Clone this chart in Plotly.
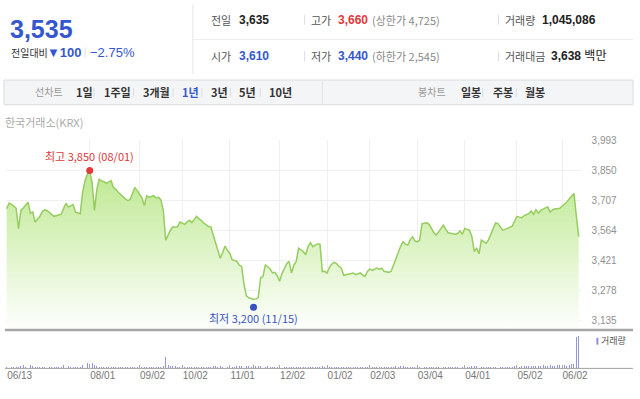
import plotly.graph_objects as go

# ---------------- data ----------------
prices = [
    3668, 3694, 3690, 3680, 3670, 3574, 3660, 3672, 3685, 3699,
    3647, 3652, 3605, 3620, 3632, 3655, 3663, 3660, 3648, 3640,
    3632, 3635, 3638, 3642, 3670, 3694, 3676, 3683, 3688, 3652,
    3646, 3644, 3746, 3800, 3832, 3845, 3793, 3660, 3760, 3808,
    3800, 3796, 3788, 3795, 3801, 3769, 3760, 3746, 3735, 3722,
    3715, 3707, 3711, 3740, 3769, 3754, 3738, 3720, 3683, 3730,
    3722, 3727, 3730, 3719, 3722, 3710, 3660, 3519, 3545, 3566,
    3582, 3580, 3582, 3605, 3600, 3594, 3605, 3613, 3602, 3620,
    3632, 3620, 3613, 3600, 3590, 3584, 3582, 3543, 3510, 3473,
    3433, 3460, 3491, 3470, 3457, 3426, 3422, 3418, 3400, 3394,
    3309, 3254, 3245, 3241, 3238, 3240, 3246, 3339, 3347, 3402,
    3390, 3382, 3363, 3366, 3350, 3324, 3360, 3386, 3407, 3418,
    3363, 3400, 3418, 3480, 3472, 3465, 3449, 3490, 3507, 3488,
    3495, 3501, 3501, 3370, 3371, 3363, 3390, 3405, 3413, 3407,
    3395, 3386, 3352, 3355, 3355, 3360, 3363, 3355, 3360, 3363,
    3352, 3347, 3370, 3382, 3375, 3380, 3386, 3380, 3386, 3371,
    3368, 3366, 3371, 3400, 3433, 3465, 3490, 3511, 3500, 3496,
    3520, 3535, 3515, 3511, 3519, 3597, 3600, 3601, 3594, 3570,
    3554, 3543, 3560, 3575, 3590, 3570, 3554, 3552, 3550, 3547,
    3550, 3563, 3547, 3574, 3570, 3566, 3535, 3465, 3480, 3454,
    3519, 3511, 3504, 3520, 3547, 3582, 3601, 3597, 3580, 3566,
    3570, 3574, 3580, 3585, 3610, 3632, 3628, 3625, 3635, 3641,
    3645, 3657, 3641, 3663, 3647, 3660, 3668, 3672, 3676, 3652,
    3662, 3668, 3668, 3670, 3680, 3688, 3700, 3714, 3728, 3741,
    3635, 3535,
]

volumes = [
    40000, 55000, 35000, 60000, 45000, 50000, 90000, 120000, 60000, 150000,
    110000, 70000, 45000, 40000, 55000, 38000, 42000, 50000, 35000, 45000,
    40000, 38000, 60000, 48000, 95000, 60000, 70000, 40000, 45000, 50000,
    35000, 55000, 110000, 150000, 170000, 130000, 160000, 120000, 80000, 60000,
    55000, 50000, 45000, 60000, 40000, 50000, 35000, 40000, 45000, 38000,
    50000, 42000, 35000, 48000, 55000, 40000, 45000, 38000, 50000, 42000,
    60000, 45000, 40000, 55000, 48000, 52000, 90000, 380000, 120000, 90000,
    70000, 80000, 60000, 55000, 65000, 50000, 45000, 40000, 50000, 38000,
    42000, 48000, 40000, 55000, 60000, 45000, 50000, 70000, 80000, 60000,
    75000, 55000, 50000, 48000, 52000, 60000, 55000, 70000, 65000, 80000,
    90000, 85000, 70000, 60000, 95000, 75000, 80000, 70000, 60000, 55000,
    65000, 50000, 45000, 55000, 60000, 50000, 45000, 40000, 50000, 42000,
    48000, 55000, 60000, 45000, 50000, 40000, 38000, 45000, 42000, 50000,
    55000, 48000, 40000, 70000, 60000, 45000, 50000, 40000, 42000, 48000,
    52000, 40000, 45000, 38000, 42000, 50000, 44000, 40000, 46000, 48000,
    42000, 38000, 45000, 50000, 40000, 44000, 48000, 42000, 46000, 40000,
    45000, 50000, 55000, 60000, 65000, 58000, 70000, 62000, 55000, 50000,
    48000, 52000, 60000, 58000, 50000, 70000, 48000, 52000, 45000, 40000,
    55000, 50000, 46000, 42000, 48000, 50000, 44000, 40000, 45000, 52000,
    48000, 55000, 50000, 46000, 60000, 50000, 65000, 80000, 70000, 75000,
    60000, 55000, 58000, 50000, 45000, 48000, 42000, 40000, 46000, 50000,
    52000, 60000, 60000, 55000, 70000, 65000, 58000, 75000, 80000, 62000,
    70000, 85000, 90000, 75000, 68000, 80000, 95000, 70000, 85000, 100000,
    90000, 80000, 110000, 95000, 120000, 105000, 90000, 110000, 130000, 125000,
    1000000, 1045086,
]

day_index = list(range(len(prices)))           # trading-day number
tick_days = [0, 35, 56, 74, 94, 115, 135, 153, 173, 193, 215, 234]
tick_labels = ["06/13", "08/01", "09/02", "10/02", "11/01", "12/02",
               "01/02", "02/03", "03/04", "04/01", "05/02", "06/02"]
price_ticks = [3993, 3850, 3707, 3564, 3421, 3278, 3135]
high_point = (35, 3850, "최고 3,850 (08/01)")
low_point = (104, 3200, "최저 3,200 (11/15)")

# ---------------- helpers ----------------
W, H = 640, 399
def px(x):
    return x / W
def py(y):
    return 1 - y / H

NUM = "Liberation Sans, Noto Sans CJK KR, sans-serif"
KR = "Noto Sans CJK KR, Liberation Sans, sans-serif"
BLUE = "#3457cf"
RED = "#e0393e"

fig = go.Figure()

fig.add_trace(go.Scatter(
    x=day_index, y=prices, mode="lines",
    line=dict(color="#95cd5e", width=1.5),
    fill="tozeroy",
    fillgradient=dict(type="vertical",
                      colorscale=[[0, "rgba(255,255,255,1)"], [1, "#c2ea98"]],
                      start=3097.5, stop=3800),
    hoverinfo="skip", showlegend=False, xaxis="x", yaxis="y"))

fig.add_trace(go.Scatter(
    x=[high_point[0]], y=[high_point[1]], mode="markers",
    marker=dict(color="#e23b3b", size=7), showlegend=False,
    hoverinfo="skip", xaxis="x", yaxis="y"))
fig.add_trace(go.Scatter(
    x=[low_point[0]], y=[low_point[1]], mode="markers",
    marker=dict(color="#3a4fc2", size=7), showlegend=False,
    hoverinfo="skip", xaxis="x", yaxis="y"))

fig.add_trace(go.Bar(
    x=day_index, y=volumes, width=0.4,
    marker=dict(color="#9596d8", line=dict(width=0)),
    hoverinfo="skip", showlegend=False, xaxis="x2", yaxis="y2"))

xdom = [px(6), px(587)]
xr = [-0.3, 241.8]

fig.update_layout(
    width=W, height=H, margin=dict(l=0, r=0, t=0, b=0),
    paper_bgcolor="white", plot_bgcolor="rgba(0,0,0,0)",
    hovermode=False,
    xaxis=dict(domain=xdom, range=xr, tickvals=tick_days, showticklabels=False,
               showgrid=True, gridcolor="#efefef", gridwidth=1, zeroline=False,
               showline=False, anchor="y", fixedrange=True),
    yaxis=dict(domain=[py(328), py(137)], range=[3097.5, 3993], side="right",
               tickvals=price_ticks, ticktext=[f"{v:,}" for v in price_ticks],
               showgrid=True, gridcolor="#efefef", zeroline=False,
               tickfont=dict(family=NUM, size=10, color="#919191"),
               ticks="", ticklabelstandoff=10, anchor="x"),
    xaxis2=dict(domain=xdom, range=xr, tickvals=tick_days, ticktext=tick_labels,
                showgrid=False, zeroline=False, showline=False,
                ticks="inside", ticklen=3, tickcolor="#aaaaaa",
                ticklabelshift=13,
                tickfont=dict(family=NUM, size=10, color="#777777"),
                anchor="y2"),
    yaxis2=dict(domain=[py(368), py(330)], range=[0, 1203000],
                showgrid=False, zeroline=False, showticklabels=False,
                anchor="x2"),
    bargap=0,
)

shapes = []
# header dividers
shapes.append(dict(type="line", xref="paper", yref="paper",
                   x0=px(195), x1=px(195), y0=py(0), y1=py(70),
                   line=dict(color="#e6e6e6", width=1)))
shapes.append(dict(type="line", xref="paper", yref="paper",
                   x0=px(195), x1=px(640), y0=py(35), y1=py(35),
                   line=dict(color="#eeeeee", width=1)))
for xs, yy in [(308, 15), (308, 52), (504, 15), (504, 52)]:
    shapes.append(dict(type="line", xref="paper", yref="paper",
                       x0=px(xs), x1=px(xs), y0=py(yy - 5), y1=py(yy + 5),
                       line=dict(color="#dddddd", width=1)))
shapes.append(dict(type="line", xref="paper", yref="paper",
                   x0=px(86), x1=px(86), y0=py(43), y1=py(53),
                   line=dict(color="#dddddd", width=1)))
# toolbar
shapes.append(dict(type="rect", xref="paper", yref="paper",
                   x0=px(4), x1=px(640), y0=py(101), y1=py(76),
                   fillcolor="#f4f5f7", line=dict(color="#dcdcdc", width=1)))
shapes.append(dict(type="line", xref="paper", yref="paper",
                   x0=px(326), x1=px(326), y0=py(77), y1=py(100),
                   line=dict(color="#e2e2e2", width=1)))
for xs in [95, 135, 175, 204, 233, 263, 488, 522]:
    shapes.append(dict(type="line", xref="paper", yref="paper",
                       x0=px(xs), x1=px(xs), y0=py(84), y1=py(93),
                       line=dict(color="#dddddd", width=1)))
# separator between price & volume
shapes.append(dict(type="line", xref="paper", yref="paper",
                   x0=px(5), x1=px(640), y0=py(329), y1=py(329),
                   line=dict(color="#a6a6a6", width=2.5)))
# volume baseline
shapes.append(dict(type="line", xref="paper", yref="paper",
                   x0=px(5), x1=px(640), y0=py(368), y1=py(368),
                   line=dict(color="#a0a0a0", width=1)))
# volume legend icon
shapes.append(dict(type="rect", xref="paper", yref="paper",
                   x0=px(603), x1=px(605), y0=py(344), y1=py(337),
                   fillcolor="#8e8fd6", line=dict(width=0)))
fig.update_layout(shapes=shapes)

ann = []
def text(x, y, s, size=11, color="#333", bold=False, family=NUM, anchor="left"):
    if bold:
        s = f"<b>{s}</b>"
    ann.append(dict(xref="paper", yref="paper", x=px(x), y=py(y), text=s,
                    showarrow=False, xanchor=anchor, yanchor="middle",
                    font=dict(size=size, color=color, family=family)))

# header left
text(8, 24, "3,535", size=25, color=BLUE, bold=True)
text(9, 48, "전일대비", size=10, color="#333", family=KR)
text(46, 48, "▼100", size=13, color=BLUE, bold=True)
text(89, 48, "−2.75%", size=13, color=BLUE, bold=False)
# header right rows
text(211, 15, "전일", size=11, color="#555", family=KR)
text(240, 15, "3,635", size=12, color="#222", bold=True)
text(312, 15, "고가", size=11, color="#555", family=KR)
text(340, 15, "3,660", size=12, color=RED, bold=True)
text(374, 15, "(상한가 4,725)", size=11, color="#888", family=KR)
text(509, 15, "거래량", size=11, color="#555", family=KR)
text(546, 15, "1,045,086", size=12, color="#222", bold=True)

text(211, 52, "시가", size=11, color="#555", family=KR)
text(240, 52, "3,610", size=12, color=BLUE, bold=True)
text(312, 52, "저가", size=11, color="#555", family=KR)
text(340, 52, "3,440", size=12, color=BLUE, bold=True)
text(374, 52, "(하한가 2,545)", size=11, color="#888", family=KR)
text(509, 52, "거래대금", size=11, color="#555", family=KR)
text(555, 52, "<b>3,638</b> 백만", size=12, color="#222")

# toolbar
text(33, 88, "선차트", size=10, color="#999", family=KR)
for s, x, c in [("1일", 75, "#333"), ("1주일", 103, "#333"), ("3개월", 143, "#333"),
                ("1년", 182, BLUE), ("3년", 211, "#333"), ("5년", 240, "#333"),
                ("10년", 270, "#333")]:
    text(x, 88, s, size=11, color=c, bold=True, family=KR)
text(421, 88, "봉차트", size=10, color="#999", family=KR)
for s, x in [("일봉", 464), ("주봉", 496), ("월봉", 529)]:
    text(x, 88, s, size=11, color="#333", bold=True, family=KR)

text(3, 118, "한국거래소(KRX)", size=11, color="#aaaaaa", family=KR)

# high / low labels
ann.append(dict(xref="x", yref="y", x=high_point[0], y=high_point[1],
                text=high_point[2], showarrow=False, yshift=14,
                font=dict(size=11, color="#d9383c", family=KR)))
ann.append(dict(xref="x", yref="y", x=low_point[0], y=low_point[1],
                text=low_point[2], showarrow=False, yshift=-11,
                font=dict(size=11, color="#3a55c0", family=KR)))

text(606, 340, "거래량", size=9, color="#555", family=KR)

fig.update_layout(annotations=ann)
fig.write_html(
    "out.html",
    config={"displayModeBar": False, "staticPlot": True},
    post_script="document.body.style.margin='0';document.body.style.padding='0';"
                "document.body.style.overflow='hidden';",
)
